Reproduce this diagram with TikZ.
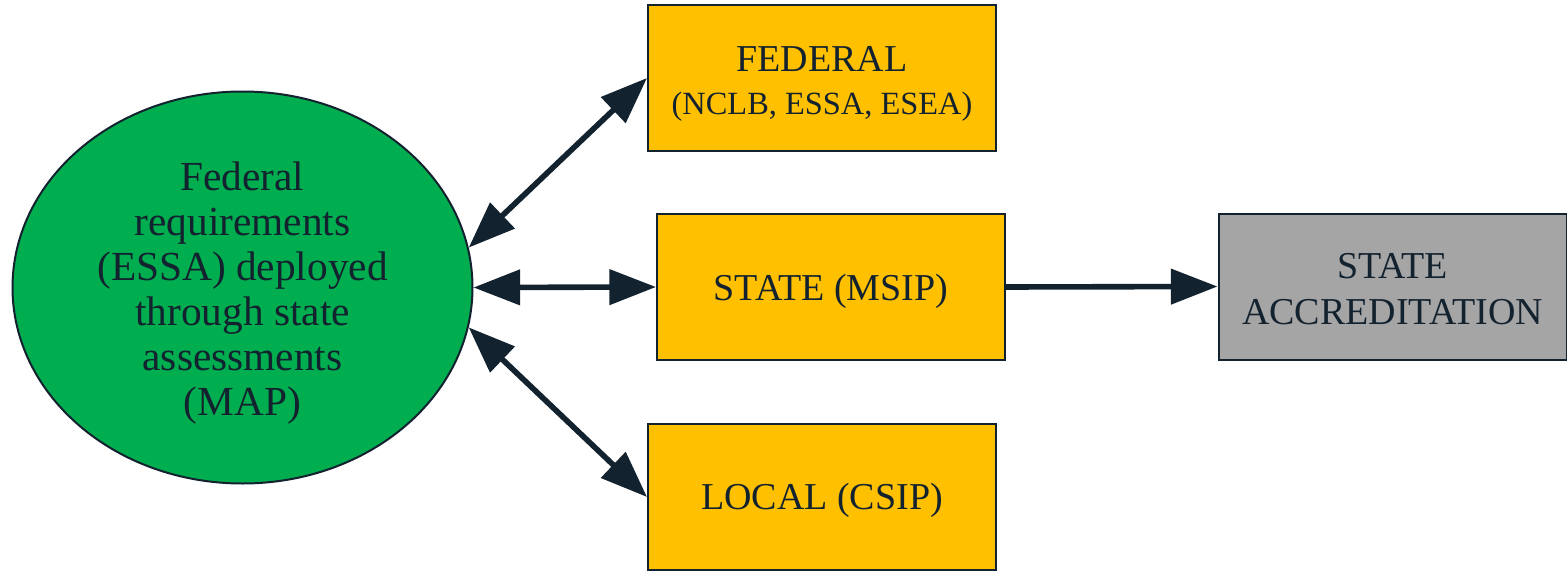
\documentclass[tikz,border=0pt]{standalone}
\usepackage{fontspec}
\setmainfont{Liberation Serif}
\usetikzlibrary{arrows.meta,shapes.geometric}
\definecolor{ink}{HTML}{13222F}
\definecolor{leafgreen}{HTML}{00AD4F}
\definecolor{gold}{HTML}{FFC000}
\definecolor{stone}{HTML}{A5A5A5}
% strut that lowers a node's text by making its first line taller
\newcommand{\lowerby}[1]{\rule{0pt}{#1}}
\begin{document}
\begin{tikzpicture}[x=0.75pt,y=-0.75pt,
  level/.style={draw=ink,line width=1.5pt,fill=gold,minimum width=261pt,minimum height=109.5pt,
    inner sep=0pt,text=ink,align=center,font=\fontsize{28.5}{34}\selectfont},
  outcome/.style={level,fill=stone},
  hub/.style={ellipse,draw=ink,line width=1.5pt,fill=leafgreen,minimum width=345pt,minimum height=294pt,
    inner sep=0pt,text=ink,align=center,font=\fontsize{31}{33.75}\selectfont},
  link/.style={draw=ink,line width=4.2pt,-{Triangle[length=35pt,width=26pt]}},
  twoway/.style={link,{Triangle[length=35pt,width=26pt]}-{Triangle[length=35pt,width=26pt]}}]
\useasboundingbox (0,0) rectangle (1567,571);
\node[hub] (ell) at (242.5,287.5) {\lowerby{30.5pt}Federal\\requirements\\(ESSA) deployed\\through state\\assessments\\(MAP)};
\node[level] (fed) at (822,78) {\lowerby{28pt}FEDERAL\\[-2pt]{\fontsize{24.3}{29}\selectfont (NCLB, ESSA, ESEA)}};
\node[level] (state) at (831,287) {\lowerby{26pt}STATE (MSIP)};
\node[level] (local) at (822,497) {\lowerby{24.5pt}LOCAL (CSIP)};
\node[outcome] (accr) at (1392.5,286.5) {\lowerby{23pt}STATE\\ACCREDITATION};
\draw[twoway] (ell.10) -- (fed.west);
\draw[twoway] (ell.east) -- (state.west);
\draw[twoway] (ell.-10) -- (local.west);
\draw[link] (state.east) -- (accr.west);
\end{tikzpicture}
\end{document}
